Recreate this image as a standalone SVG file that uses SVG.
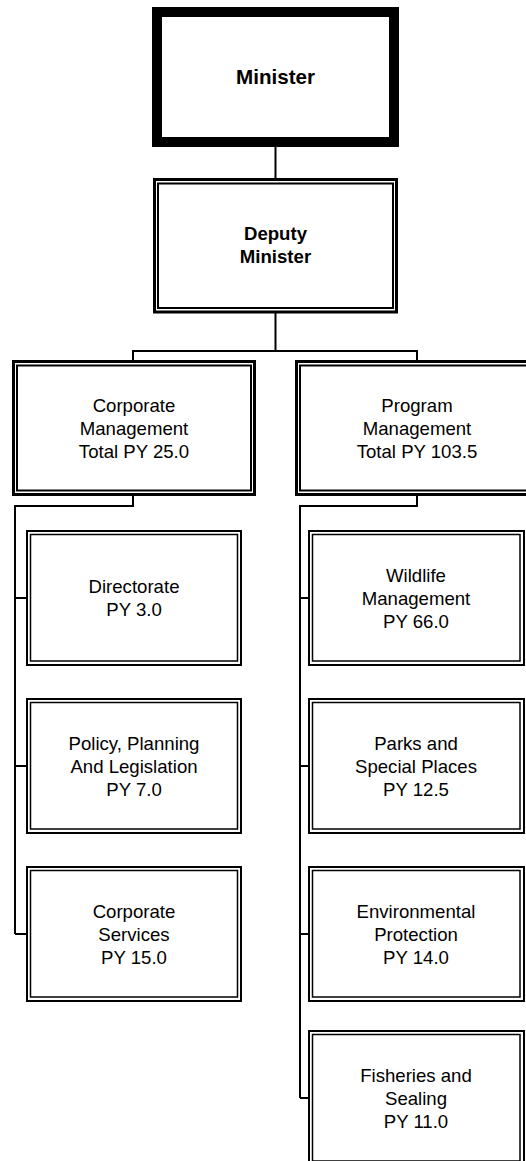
<svg xmlns="http://www.w3.org/2000/svg" width="526" height="1161" viewBox="0 0 526 1161">
<style>
.bg{fill:#fff}
.thick{fill:#fff;stroke:#000;stroke-width:10}
.o3{fill:#fff;stroke:#000;stroke-width:3}
.i2{fill:none;stroke:#000;stroke-width:2}
.o2{fill:#fff;stroke:#000;stroke-width:2}
.i15{fill:none;stroke:#000;stroke-width:1.5}
.conn{fill:none;stroke:#000;stroke-width:2}
text{font-family:"Liberation Sans",Arial,sans-serif;font-size:18.6px;fill:#000;text-anchor:middle}
.b{font-weight:bold}
</style>
<rect class="bg" x="0" y="0" width="526" height="1161"/>
<g id="connectors">
<path class="conn" d="M275.5,147 V178"/>
<path class="conn" d="M275.5,313 V351 M133,351 H417 M133,350 V361 M417,350 V361"/>
<path class="conn" d="M133,496 V506 H15 V934 M15,598 H26 M15,766 H26 M15,934 H26"/>
<path class="conn" d="M417,496 V506 H300 V1098 M300,598 H308 M300,766 H308 M300,934 H308 M300,1098 H308"/>
</g>
<g id="minister">
<rect class="thick" x="157" y="12" width="237" height="130"/>
<text class="b" x="275.5" y="83.5" style="font-size:20.6px">Minister</text>
</g>
<g id="deputy">
<rect class="o3" x="154.5" y="179.5" width="242" height="132.5"/>
<rect class="i2" x="158" y="183.5" width="235" height="124.5"/>
<text class="b" x="275.5" y="240">Deputy</text>
<text class="b" x="275.5" y="263.3">Minister</text>
</g>
<g id="corporate">
<rect class="o3" x="13.5" y="361.5" width="241" height="133"/>
<rect class="i2" x="17" y="365.5" width="234" height="125"/>
<text x="134" y="411.7">Corporate</text>
<text x="134" y="434.8">Management</text>
<text x="134" y="457.5">Total PY 25.0</text>
</g>
<g id="program">
<rect class="o3" x="296.5" y="361.5" width="241" height="133"/>
<rect class="i2" x="300" y="365.5" width="234" height="125"/>
<text x="417" y="411.7">Program</text>
<text x="417" y="434.8">Management</text>
<text x="417" y="457.5">Total PY 103.5</text>
</g>
<g id="directorate">
<rect class="o2" x="27" y="531" width="214" height="134"/>
<rect class="i15" x="30.5" y="534.5" width="207" height="126.5"/>
<text x="134" y="592.5">Directorate</text>
<text x="134" y="615.8">PY 3.0</text>
</g>
<g id="policy">
<rect class="o2" x="27" y="699" width="214" height="134"/>
<rect class="i15" x="30.5" y="702.5" width="207" height="126.5"/>
<text x="134" y="749.7">Policy, Planning</text>
<text x="134" y="772.8">And Legislation</text>
<text x="134" y="795.8">PY 7.0</text>
</g>
<g id="corpservices">
<rect class="o2" x="27" y="867" width="214" height="134"/>
<rect class="i15" x="30.5" y="870.5" width="207" height="126.5"/>
<text x="134" y="917.7">Corporate</text>
<text x="134" y="940.8">Services</text>
<text x="134" y="963.8">PY 15.0</text>
</g>
<g id="wildlife">
<rect class="o2" x="309" y="531" width="215" height="134"/>
<rect class="i15" x="312.5" y="534.5" width="207.5" height="126.5"/>
<text x="416" y="581.7">Wildlife</text>
<text x="416" y="604.8">Management</text>
<text x="416" y="627.8">PY 66.0</text>
</g>
<g id="parks">
<rect class="o2" x="309" y="699" width="215" height="134"/>
<rect class="i15" x="312.5" y="702.5" width="207.5" height="126.5"/>
<text x="416" y="749.7">Parks and</text>
<text x="416" y="772.8">Special Places</text>
<text x="416" y="795.8">PY 12.5</text>
</g>
<g id="environmental">
<rect class="o2" x="309" y="867" width="215" height="134"/>
<rect class="i15" x="312.5" y="870.5" width="207.5" height="126.5"/>
<text x="416" y="917.7">Environmental</text>
<text x="416" y="940.8">Protection</text>
<text x="416" y="963.8">PY 14.0</text>
</g>
<g id="fisheries">
<rect class="o2" x="309" y="1031" width="215" height="134"/>
<rect class="i15" x="312.5" y="1034.5" width="207.5" height="126.5"/>
<text x="416" y="1081.7">Fisheries and</text>
<text x="416" y="1104.8">Sealing</text>
<text x="416" y="1127.8">PY 11.0</text>
</g>
</svg>
